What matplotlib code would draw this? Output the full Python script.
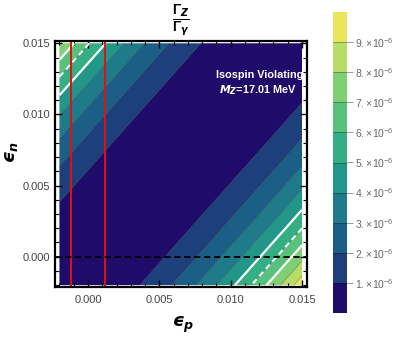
import numpy as np
import matplotlib
matplotlib.use("Agg")
import matplotlib.pyplot as plt
from matplotlib.colors import ListedColormap, BoundaryNorm
from matplotlib.ticker import MultipleLocator, FixedLocator, NullLocator
import matplotlib.colorbar as mcolorbar

plt.rcParams['font.family'] = ['Liberation Sans', 'DejaVu Sans']
plt.rcParams['mathtext.fontset'] = 'custom'
plt.rcParams['mathtext.rm'] = 'Liberation Sans'
plt.rcParams['mathtext.it'] = 'Liberation Sans:italic'
plt.rcParams['mathtext.bf'] = 'DejaVu Sans:bold:italic'
plt.rcParams['mathtext.sf'] = 'Liberation Sans:bold'

# ---- data ----
eps_p_range = [-0.002, 0.015]
eps_n_range = [-0.002, 0.015]
K = 0.0343
R = 0.888
levels = [1e-6, 2e-6, 3e-6, 4e-6, 5e-6, 6e-6, 7e-6, 8e-6, 9e-6]
level_labels = ["1", "2", "3", "4", "5", "6", "7", "8", "9"]
band_colors = ["#1f0c6a", "#1d3f7c", "#1b5f86", "#1f7b8a", "#23968a",
               "#35ae83", "#58c27c", "#80cf74", "#b5dd67", "#eae55c"]
exp_band = [5e-6, 7e-6]
exp_central = [6e-6]
red_lines = [-0.0012, 0.0012]
zero_line = 0.0
xticks = [0.000, 0.005, 0.010, 0.015]
yticks = [0.000, 0.005, 0.010, 0.015]

# ---- figure ----
W, H = 399, 338
fig = plt.figure(figsize=(W / 100, H / 100), dpi=100)

def px_axes(x0, y0, x1, y1):
    return fig.add_axes([x0 / W, 1 - y1 / H, (x1 - x0) / W, (y1 - y0) / H])

ax = px_axes(55, 41, 307, 287)
ax.set_xlim(-0.00231, 0.01535)
ax.set_ylim(-0.00213, 0.01516)

ep = np.linspace(eps_p_range[0], eps_p_range[1], 500)
en = np.linspace(eps_n_range[0], eps_n_range[1], 500)
EP, EN = np.meshgrid(ep, en)
F = K * (EP - R * EN) ** 2

cmap = ListedColormap(band_colors)
fill_levels = [-1.0] + levels + [1.0]
ax.contourf(EP, EN, F, levels=fill_levels, colors=band_colors, antialiased=True)
ax.contour(EP, EN, F, levels=levels, colors=[(0, 0, 0, 0.35)], linewidths=0.5)
ax.contour(EP, EN, F, levels=exp_band, colors='white', linewidths=1.6)
ax.contour(EP, EN, F, levels=exp_central, colors='white', linewidths=1.4,
           linestyles=[(0, (3, 2))])

for x in red_lines:
    ax.plot([x, x], [eps_n_range[0], eps_n_range[1]], color='#e41010', lw=1.4)
ax.axhline(zero_line, color='black', lw=1.3, ls=(0, (3.5, 2)))

for s in ax.spines.values():
    s.set_linewidth(1.6)
ax.xaxis.set_major_locator(FixedLocator(xticks))
ax.yaxis.set_major_locator(FixedLocator(yticks))
ax.xaxis.set_minor_locator(MultipleLocator(0.001))
ax.yaxis.set_minor_locator(MultipleLocator(0.001))
ax.set_xticklabels([f"{v:.3f}" for v in xticks])
ax.set_yticklabels([f"{v:.3f}" for v in yticks])
ax.tick_params(which='both', direction='in', top=True, right=True, color='black',
               labelsize=8, labelcolor='#444444')
ax.tick_params(which='major', length=5, width=1.0)
ax.tick_params(which='minor', length=3, width=0.8)
ax.tick_params(axis='x', pad=6)
ax.tick_params(axis='y', pad=3.5)

fig.text(183 / W, 1 - 325 / H, r'$\mathbf{ϵ_p}$', fontsize=13, ha='center', va='center')
fig.text(12 / W, 1 - 152 / H, r'$\mathbf{ϵ_n}$', fontsize=13, ha='center', va='center',
         rotation=90)
fig.text(181 / W, 1 - 21 / H,
         r'$\frac{\mathsf{\Gamma}_{\mathbf{Z}}}{\mathsf{\Gamma}_{\mathbf{\gamma}}}$',
         fontsize=14, ha='center', va='center', color='black')

ax.text(0.985, 0.86, 'Isospin Violating', transform=ax.transAxes, color='white',
        fontsize=7.8, fontweight='bold', ha='right', va='center')
ax.text(0.96, 0.80, r'$\mathbf{M_Z}$=17.01 MeV', transform=ax.transAxes, color='white',
        fontsize=7.8, fontweight='bold', ha='right', va='center')

# ---- colorbar ----
cax = px_axes(333, 12, 347, 313)
bounds = np.arange(0, 11) * 1e-6
norm = BoundaryNorm(bounds, cmap.N)
cb = mcolorbar.ColorbarBase(cax, cmap=cmap, norm=norm, boundaries=bounds,
                            spacing='uniform', ticks=levels, drawedges=True)
cb.dividers.set_color((0, 0, 0, 0.35))
cb.dividers.set_linewidth(0.6)
cb.outline.set_visible(False)
cax.yaxis.set_minor_locator(NullLocator())
cb.set_ticklabels([r'$%s.\!\times\!10^{-6}$' % l for l in level_labels])
cax.tick_params(length=4, width=0.6, color='#888888', labelsize=7.5, labelcolor='#666666', pad=1.5)

fig.savefig('out.png', dpi=100)
